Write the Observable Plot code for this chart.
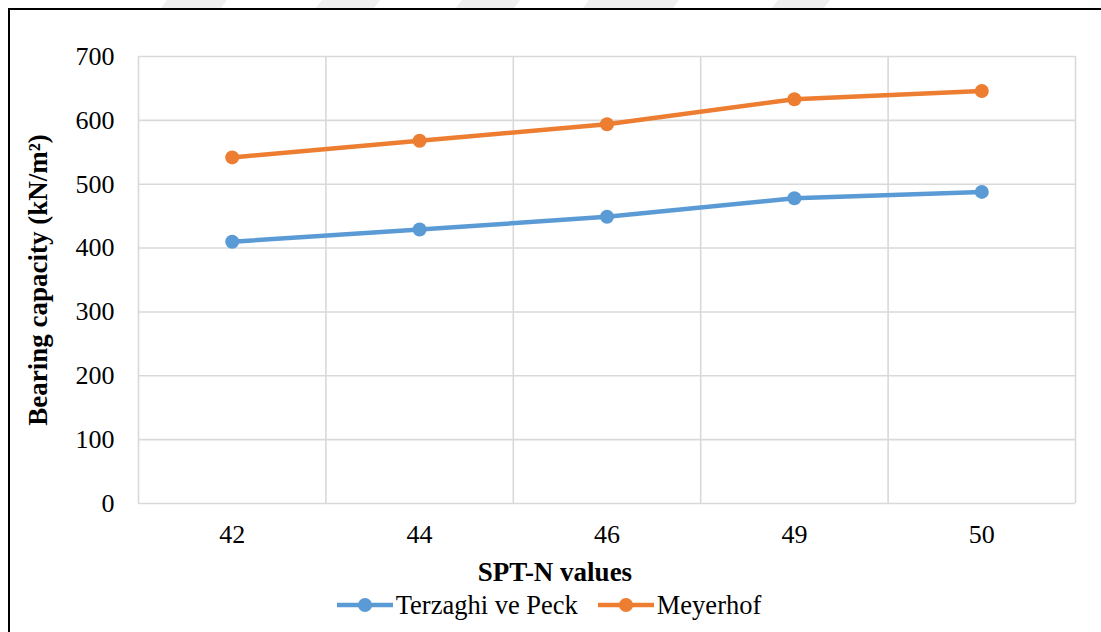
<!DOCTYPE html>
<html>
<head>
<meta charset="utf-8">
<script src="https://cdn.jsdelivr.net/npm/d3@7"></script>
<script src="https://cdn.jsdelivr.net/npm/@observablehq/plot@0.6"></script>
<style>
  html, body { margin: 0; padding: 0; background: #fff; }
  #wrap { position: relative; width: 1101px; height: 632px; overflow: hidden; font-family: "Liberation Serif", "Times New Roman", serif; }
  #frame { position: absolute; left: 8px; top: 8px; width: 1110px; height: 700px; border-left: 2px solid #000; border-top: 2px solid #000; }
  #chart { position: absolute; left: 0; top: 0; }
  #xlabel { position: absolute; top: 557px; left: 0; width: 1110px; text-align: center; font-weight: bold; font-size: 27px; line-height: 30px; color: #000; }
  #legend { position: absolute; top: 590px; left: 0; width: 1098px; display: flex; justify-content: center; gap: 20px; font-size: 26.5px; line-height: 30px; color: #000; }
  .item { display: flex; align-items: center; }
  .item svg { margin-right: 3px; }
  #wm { position: absolute; left: 0; top: 0; }
</style>
</head>
<body>
<div id="wrap">
  <svg id="wm" width="1101" height="8"></svg>
  <div id="frame"></div>
  <div id="chart"></div>
  <div id="xlabel"></div>
  <div id="legend"></div>
</div>
<script>
// ---- data ----
const spt = ["42", "44", "46", "49", "50"];
const seriesNames = ["Terzaghi ve Peck", "Meyerhof"];
const terzaghi = [410, 429, 449, 478, 488];
const meyerhof = [542, 568, 594, 633, 646];
const seriesColors = ["#5B9BD5", "#ED7D31"];
const yTicks = [0, 100, 200, 300, 400, 500, 600, 700];
const xTitle = "SPT-N values";
const yTitle = "Bearing capacity (kN/m\u00B2)";

// faint watermark stripes at the very top
const wmStarts = [161, 316, 456, 583, 772];
const wmWidths = [60, 58, 58, 90, 52];
d3.select("#wm").selectAll("polygon").data(wmStarts).join("polygon")
  .attr("points", (d, i) => `${d + 6},0 ${d + wmWidths[i] + 6},0 ${d + wmWidths[i]},8 ${d},8`)
  .attr("fill", "#efefef");

const rows = [];
[terzaghi, meyerhof].forEach((vals, s) => vals.forEach((v, i) => rows.push({series: seriesNames[s], i, value: v})));
const bounds = d3.range(spt.length + 1).map(k => k - 0.5);
const serif = "Liberation Serif, Times New Roman, serif";

const chart = Plot.plot({
  width: 1101,
  height: 556,
  marginLeft: 138,
  marginRight: 26,
  marginTop: 56,
  marginBottom: 53,
  style: {fontFamily: serif, fontSize: "26px", color: "#000", background: "transparent"},
  x: {type: "linear", domain: [-0.5, spt.length - 0.5]},
  y: {domain: [0, 700]},
  color: {domain: seriesNames, range: seriesColors},
  marks: [
    Plot.gridY(yTicks, {stroke: "#d9d9d9", strokeOpacity: 1, strokeWidth: 1.6}),
    Plot.ruleX(bounds, {stroke: "#d9d9d9", strokeWidth: 1.6}),
    Plot.axisY(yTicks, {tickSize: 0, tickPadding: 24, label: null, fontSize: 26, fill: "#000"}),
    Plot.axisX(d3.range(spt.length), {tickSize: 0, tickPadding: 21, tickFormat: i => spt[i], label: null, fontSize: 26, fill: "#000"}),
    Plot.text([yTitle], {frameAnchor: "left", textAnchor: "middle", dx: -100, rotate: -90, fontWeight: "bold", fontSize: 27, fill: "#000"}),
    Plot.line(rows, {x: "i", y: "value", z: "series", stroke: "series", strokeWidth: 4.5}),
    Plot.dot(rows, {x: "i", y: "value", fill: "series", r: 7})
  ]
});
// force serif font on every text node (Excel-style Times look)
d3.select(chart).selectAll("g, text, tspan")
  .style("font-family", "'Liberation Serif', 'Times New Roman', serif", "important")
  .style("font-variant", "normal", "important");
document.getElementById("chart").appendChild(chart);
document.getElementById("xlabel").textContent = xTitle;

const legend = d3.select("#legend");
seriesNames.forEach((name, s) => {
  const item = legend.append("div").attr("class", "item");
  const sv = item.append("svg").attr("width", 56).attr("height", 16);
  sv.append("line").attr("x1", 0).attr("x2", 56).attr("y1", 8).attr("y2", 8)
    .attr("stroke", seriesColors[s]).attr("stroke-width", 4.5);
  sv.append("circle").attr("cx", 28).attr("cy", 8).attr("r", 7).attr("fill", seriesColors[s]);
  item.append("span").text(name);
});
</script>
</body>
</html>
